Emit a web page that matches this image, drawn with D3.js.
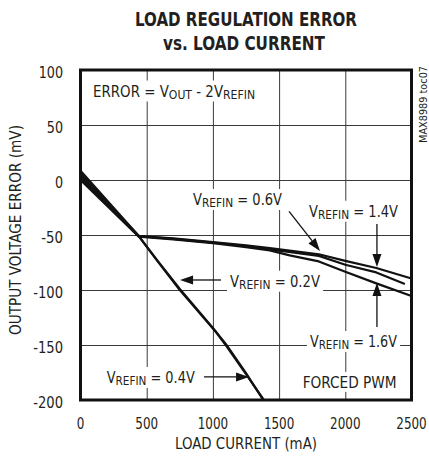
<!DOCTYPE html>
<html lang="en">
<meta charset="utf-8">
<style>
  body { margin: 0; background: #fff; }
  text { font-family: 'Liberation Sans Narrow', 'DejaVu Sans Condensed', sans-serif; fill: #231f20; }
</style>
<script src="https://cdn.jsdelivr.net/npm/d3@7"></script>
<body>
<div id="chart"></div>
<script>
// ---- data ----
var xTicks = [0, 500, 1000, 1500, 2000, 2500];
var yTicks = [100, 50, 0, -50, -100, -150, -200];

// load current (mA) / output voltage error (mV), one pair per VREFIN
var current02 = [0, 440, 580, 750, 1000, 1100, 1250, 1380];
var error02   = [8.5, -51, -73, -99, -134.5, -149.5, -175.5, -200];
var current04 = [0, 440, 580, 750, 1015, 1105, 1250, 1385];
var error04   = [6, -51, -73.5, -100, -137, -151.5, -176.5, -200];
var current06 = [0, 440, 700, 1000, 1250, 1430, 1800, 2000, 2234, 2450];
var error06   = [4, -51, -53.5, -57, -60, -63, -69, -77, -84, -94.5];
var current14 = [0, 440, 700, 1000, 1250, 1430, 1800, 2000, 2234, 2500];
var error14   = [2, -51, -53, -56.5, -59.5, -62, -67.5, -73.5, -80, -89.5];
var current16 = [0, 440, 700, 1000, 1250, 1430, 1580, 1800, 2000, 2234, 2500];
var error16   = [0, -51.5, -54, -57.5, -61, -64, -68.5, -74, -83.5, -94, -105.5];

var series = [
  {name: "0.2V", x: current02, y: error02},
  {name: "0.4V", x: current04, y: error04},
  {name: "0.6V", x: current06, y: error06},
  {name: "1.4V", x: current14, y: error14},
  {name: "1.6V", x: current16, y: error16}
];

// ---- layout ----
var W = 429, H = 461;
var pLeft = 80.5, pRight = 411.5, pTop = 70, pBottom = 400;

var svg = d3.select("#chart").append("svg")
  .attr("width", W).attr("height", H);

var x = d3.scaleLinear().domain([0, 2500]).range([pLeft, pRight]);
var y = d3.scaleLinear().domain([-200, 100]).range([pBottom, pTop]);

var gridG = svg.append("g");
var boxG = svg.append("g");
var curveG = svg.append("g");
var arrowG = svg.append("g");
var textG = svg.append("g");

// gridlines
gridG.append("g")
  .attr("transform", "translate(0," + pBottom + ")")
  .call(d3.axisBottom(x).tickValues(xTicks.slice(1, -1)).tickSize(-(pBottom - pTop)).tickFormat(""))
  .call(g => g.select(".domain").remove())
  .selectAll("line").attr("stroke", "#3a3a3a").attr("stroke-width", 1);
gridG.append("g")
  .attr("transform", "translate(" + pLeft + ",0)")
  .call(d3.axisLeft(y).tickValues(yTicks.slice(1, -1)).tickSize(-(pRight - pLeft)).tickFormat(""))
  .call(g => g.select(".domain").remove())
  .selectAll("line").attr("stroke", "#3a3a3a").attr("stroke-width", 1);

// tick labels
svg.append("g").selectAll("text")
  .data(xTicks).enter().append("text")
    .attr("x", d => x(d)).attr("y", 428.5)
    .attr("text-anchor", "middle").attr("font-size", 15)
    .attr("textLength", d => String(d).length * 7.6).attr("lengthAdjust", "spacingAndGlyphs")
    .text(d => d);
svg.append("g").selectAll("text")
  .data(yTicks).enter().append("text")
    .attr("x", 63).attr("y", d => y(d) + 7.5)
    .attr("text-anchor", "end").attr("font-size", 15.5)
    .attr("textLength", d => String(Math.abs(d)).length * 8.1 + (d < 0 ? 5.5 : 0))
    .attr("lengthAdjust", "spacingAndGlyphs")
    .text(d => d);

// axis titles
svg.append("text")
  .attr("x", 246).attr("y", 448.5)
  .attr("text-anchor", "middle").attr("font-size", 16)
  .attr("textLength", 142).attr("lengthAdjust", "spacingAndGlyphs")
  .text("LOAD CURRENT (mA)");
svg.append("text")
  .attr("transform", "translate(20.5,230)rotate(-90)")
  .attr("text-anchor", "middle").attr("font-size", 16)
  .attr("textLength", 210).attr("lengthAdjust", "spacingAndGlyphs")
  .text("OUTPUT VOLTAGE ERROR (mV)");

// title
svg.append("text")
  .attr("x", 246).attr("y", 26)
  .attr("text-anchor", "middle").attr("font-size", 20).attr("font-weight", "bold")
  .attr("textLength", 222).attr("lengthAdjust", "spacingAndGlyphs")
  .text("LOAD REGULATION ERROR");
svg.append("text")
  .attr("x", 244).attr("y", 50)
  .attr("text-anchor", "middle").attr("font-size", 20).attr("font-weight", "bold")
  .attr("textLength", 162).attr("lengthAdjust", "spacingAndGlyphs")
  .text("vs. LOAD CURRENT");

// part number tag
svg.append("text")
  .attr("transform", "translate(427,143)rotate(-90)")
  .attr("font-size", 10.5).attr("textLength", 77).attr("lengthAdjust", "spacingAndGlyphs")
  .text("MAX8989 toc07");

// curves
var line = d3.line().x(d => x(d[0])).y(d => y(d[1]));
curveG.selectAll("path")
  .data(series).enter().append("path")
    .attr("d", s => line(d3.zip(s.x, s.y)))
    .attr("fill", "none")
    .attr("stroke", "#111")
    .attr("stroke-width", 2.2)
    .attr("stroke-linejoin", "round");

// annotations, in data units: text parts (1 = subscript), baseline start, width
var labels = [
  {x: 95, y: 75.9, w: 162, parts: [["ERROR = V", 0], ["OUT", 1], [" - 2V", 0], ["REFIN", 1]]},
  {x: 850, y: -22.7, w: 89, parts: [["V", 0], ["REFIN", 1], [" = 0.6V", 0]]},
  {x: 1726, y: -33.4, w: 89, parts: [["V", 0], ["REFIN", 1], [" = 1.4V", 0]]},
  {x: 1129, y: -97, w: 90, parts: [["V", 0], ["REFIN", 1], [" = 0.2V", 0]]},
  {x: 1733, y: -151.8, w: 87, parts: [["V", 0], ["REFIN", 1], [" = 1.6V", 0]]},
  {x: 198, y: -184.5, w: 88, parts: [["V", 0], ["REFIN", 1], [" = 0.4V", 0]]},
  {x: 1678, y: -189, w: 94, parts: [["FORCED PWM", 0]]}
];
// arrows: from -> tip, data units
var arrows = [
  {from: [1575, -28.6], to: [1809, -64.5]},
  {from: [2239, -40], to: [2239, -79.1]},
  {from: [2239, -133.6], to: [2239, -93.6]},
  {from: [1061, -90.9], to: [752, -90.9]},
  {from: [933, -179], to: [1273, -179]}
];

labels.forEach(function(l) {
  var t = textG.append("text")
    .attr("x", x(l.x)).attr("y", y(l.y))
    .attr("font-size", 16)
    .attr("textLength", l.w).attr("lengthAdjust", "spacingAndGlyphs");
  var shifted = false;
  l.parts.forEach(function(p) {
    var ts = t.append("tspan").text(p[0]);
    if (p[1]) { ts.attr("font-size", 13).attr("dy", shifted ? 0 : 2); shifted = true; }
    else { ts.attr("dy", shifted ? -2 : 0); shifted = false; }
  });
  var b = t.node().getBBox();
  boxG.append("rect")
    .attr("x", b.x - 3).attr("y", b.y - 1)
    .attr("width", b.width + 6).attr("height", b.height + 1)
    .attr("fill", "#fff");
});

arrows.forEach(function(a) {
  var x0 = x(a.from[0]), y0 = y(a.from[1]);
  var x1 = x(a.to[0]), y1 = y(a.to[1]);
  var ang = Math.atan2(y1 - y0, x1 - x0);
  var len = 13, half = 4.5;
  var bx = x1 - len * Math.cos(ang), by = y1 - len * Math.sin(ang);
  arrowG.append("line")
    .attr("x1", x0).attr("y1", y0).attr("x2", bx).attr("y2", by)
    .attr("stroke", "#111").attr("stroke-width", 1.3);
  arrowG.append("path")
    .attr("d", "M" + x1 + "," + y1 +
      "L" + (bx + half * Math.sin(ang)) + "," + (by - half * Math.cos(ang)) +
      "L" + (bx - half * Math.sin(ang)) + "," + (by + half * Math.cos(ang)) + "Z")
    .attr("fill", "#111");
});

// plot frame
svg.append("rect")
  .attr("x", pLeft).attr("y", pTop)
  .attr("width", pRight - pLeft).attr("height", pBottom - pTop)
  .attr("fill", "none").attr("stroke", "#111").attr("stroke-width", 3);
</script>
</body>
</html>
